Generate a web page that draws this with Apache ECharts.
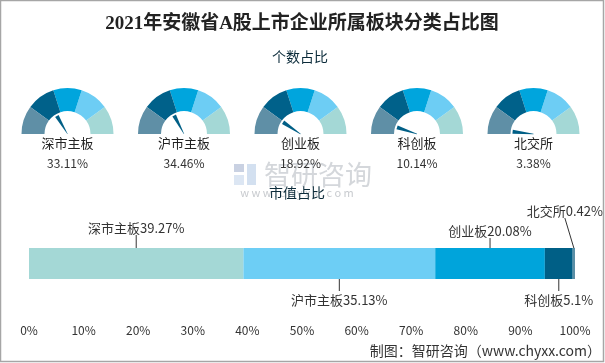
<!DOCTYPE html>
<html>
<head>
<meta charset="utf-8">
<style>
html,body{margin:0;padding:0;background:#fff;}
#main{width:605px;height:363px;}
</style>
<script src="https://cdn.jsdelivr.net/npm/echarts@6/dist/echarts.min.js"></script>
</head>
<body>
<div id="main"></div>
<script>
// ---- data ----
var gaugeNames = ['深市主板', '沪市主板', '创业板', '科创板', '北交所'];
var gaugeValues = [33.11, 34.46, 18.92, 10.14, 3.38];

var mvNames = ['深市主板', '沪市主板', '创业板', '科创板', '北交所'];
var mvValues = [39.27, 35.13, 20.08, 5.1, 0.42];

var xTicks = [0, 10, 20, 30, 40, 50, 60, 70, 80, 90, 100];

// ---- styles ----
var FONT = '"Microsoft YaHei","Noto Sans CJK SC","Noto Sans",sans-serif';
var gaugeBandColors = ['#5F8FA6', '#00618A', '#00A5DD', '#6DCDF4', '#A4D8D6'];
var barColors = ['#A4D8D6', '#6DCEF5', '#00A4DB', '#005F86', '#5B8FA6'];
var gaugeCenters = [67.5, 184, 300.5, 417, 533.5];
var labelLayout = [
  {side: 'top', dx: 0, len: 13},
  {side: 'bottom', dx: 0, len: 12},
  {side: 'top', dx: 0, len: 10},
  {side: 'bottom', dx: 0, len: 12},
  {side: 'top', dx: -9, len: 30}
];

var chart = echarts.init(document.getElementById('main'), null, {renderer: 'canvas'});

var series = [];
gaugeValues.forEach(function (v, i) {
  series.push({
    type: 'gauge',
    center: [gaugeCenters[i], 134],
    radius: 46,
    startAngle: 180,
    endAngle: 0,
    min: 0,
    max: 100,
    splitNumber: 5,
    axisLine: {
      lineStyle: {
        width: 23,
        color: gaugeBandColors.map(function (c, k) { return [(k + 1) / 5, c]; })
      }
    },
    axisTick: {show: false},
    splitLine: {show: false},
    axisLabel: {show: false},
    pointer: {
      icon: 'path://M0,0 L10,0 L5.5,100 L4.5,100 Z',
      length: 21,
      width: 4,
      offsetCenter: [0, 0],
      itemStyle: {color: '#005F86'}
    },
    anchor: {show: false},
    title: {
      offsetCenter: [0, 9.5],
      fontSize: 13,
      fontWeight: 'normal',
      color: '#222',
      fontFamily: FONT
    },
    detail: {
      offsetCenter: [0, 29],
      fontSize: 12,
      fontWeight: 'normal',
      color: '#333',
      fontFamily: FONT,
      formatter: '{value}%'
    },
    data: [{value: v, name: gaugeNames[i]}]
  });
});

mvValues.forEach(function (v, i) {
  series.push({
    type: 'bar',
    stack: 'mv',
    xAxisIndex: 0,
    yAxisIndex: 0,
    barWidth: 31,
    itemStyle: {color: barColors[i]},
    data: [v],
    silent: true
  });
});

// label data: [start, value, index]
var cum = 0;
var labelData = mvValues.map(function (v, i) {
  var d = [cum, v, i];
  cum += v;
  return d;
});

series.push({
  type: 'custom',
  xAxisIndex: 0,
  yAxisIndex: 0,
  z: 10,
  data: labelData,
  encode: {x: [0, 1]},
  renderItem: function (params, api) {
    var start = api.value(0), v = api.value(1), idx = api.value(2);
    var c = api.coord([start + v / 2, 0]);
    var half = 15.5;
    var L = labelLayout[idx];
    var x = c[0];
    var children = [];
    var y0, y1, ty;
    if (L.side === 'top') {
      y0 = c[1] - half; y1 = y0 - L.len; ty = y1 - 7;
    } else {
      y0 = c[1] + half; y1 = y0 + L.len; ty = y1 + 9;
    }
    children.push({
      type: 'line',
      shape: {x1: x, y1: y0, x2: x + L.dx, y2: y1},
      style: {stroke: '#333', lineWidth: 1}
    });
    children.push({
      type: 'text',
      x: x + L.dx,
      y: ty,
      style: {
        text: mvNames[idx] + mvValues[idx] + '%',
        align: 'center',
        verticalAlign: 'middle',
        fill: '#333',
        font: '13px ' + FONT
      }
    });
    return {type: 'group', children: children};
  }
});

var option = {
  animation: false,
  backgroundColor: '#fff',
  grid: {left: 29, right: 30, top: 248, height: 31, containLabel: false},
  xAxis: {
    type: 'value',
    min: 0,
    max: 100,
    interval: 10,
    axisLine: {show: false},
    axisTick: {show: false},
    splitLine: {show: false},
    axisLabel: {
      margin: 45,
      fontSize: 12,
      color: '#333',
      fontFamily: FONT,
      formatter: function (val) { return xTicks.indexOf(val) >= 0 ? val + '%' : ''; }
    }
  },
  yAxis: {
    type: 'category',
    data: ['市值'],
    show: false
  },
  graphic: [
    {type: 'rect', silent: true, z: 100,
      shape: {x: 0.5, y: 0.5, width: 603, height: 361},
      style: {fill: 'none', stroke: '#a6a6a6', lineWidth: 1.5}},
    {type: 'text', z: 100, x: 302, y: 24,
      style: {text: '2021年安徽省A股上市企业所属板块分类占比图', align: 'center', verticalAlign: 'middle',
        fill: '#222', font: 'bold 19px "Liberation Serif","DejaVu Serif","Noto Sans CJK SC",serif'}},
    {type: 'text', z: 100, x: 300, y: 57,
      style: {text: '个数占比', align: 'center', verticalAlign: 'middle', fill: '#0B2B3A', font: '14px ' + FONT}},
    // watermark
    {type: 'rect', z: 0, shape: {x: 234, y: 164, width: 10, height: 8}, style: {fill: '#C9D1E2'}},
    {type: 'rect', z: 0, shape: {x: 234, y: 175, width: 10, height: 10}, style: {fill: '#DCE6F3'}},
    {type: 'rect', z: 0, shape: {x: 247, y: 164, width: 9, height: 21}, style: {fill: '#D3E0F0'}},
    {type: 'text', z: 0, x: 318, y: 175,
      style: {text: '智研咨询', align: 'center', verticalAlign: 'middle', fill: '#D4D7DB', font: '27px ' + FONT}},
    {type: 'text', z: 0, x: 297, y: 193,
      style: {text: 'w w w . c h y x x . c o m', align: 'center', verticalAlign: 'middle', fill: '#C8CBCF', font: '11px ' + FONT}},
    {type: 'text', z: 100, x: 297, y: 193,
      style: {text: '市值占比', align: 'center', verticalAlign: 'middle', fill: '#0B2B3A', font: '14px ' + FONT}},
    {type: 'text', z: 100, x: 601, y: 351,
      style: {text: '制图：智研咨询（www.chyxx.com）', align: 'right', verticalAlign: 'middle', fill: '#333', font: '14px ' + FONT}}
  ],
  series: series
};

chart.setOption(option);
</script>
</body>
</html>
